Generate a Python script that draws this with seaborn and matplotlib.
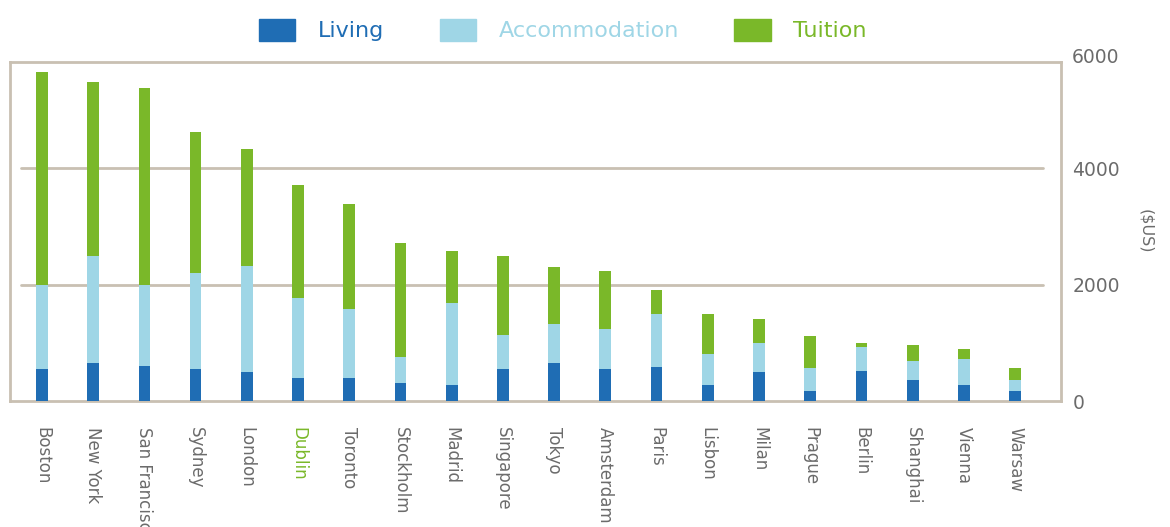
import pandas as pd
import numpy as np
import matplotlib.pyplot as plt
import seaborn as sns
from matplotlib.patches import Patch
import matplotlib.transforms as mtransforms

# values ($US)
cities = ['Boston', 'New York', 'San Francisco', 'Sydney', 'London', 'Dublin', 'Toronto',
          'Stockholm', 'Madrid', 'Singapore', 'Tokyo', 'Amsterdam', 'Paris', 'Lisbon',
          'Milan', 'Prague', 'Berlin', 'Shanghai', 'Vienna', 'Warsaw']
living = [550, 650, 600, 550, 500, 400, 400, 310, 280, 550, 660, 550, 590, 280, 500, 180, 510, 360, 280, 175]
accommodation = [1450, 1850, 1400, 1650, 1820, 1370, 1180, 450, 1400, 580, 670, 680, 910, 530, 500, 380, 410, 330, 450, 195]
tuition = [3650, 2980, 3380, 2430, 2010, 1940, 1810, 1950, 900, 1360, 980, 1010, 400, 690, 410, 560, 80, 280, 170, 195]
yticks = [0, 2000, 4000]

c_living = '#1f6db4'
c_accom = '#9fd6e6'
c_tuition = '#7ab829'
c_frame = '#c9c0b2'
c_text = '#6b6b6b'

sns.set_style('white')
plt.rcParams['font.family'] = ['DejaVu Sans']

df = pd.DataFrame({'city': cities, 'living': living,
                   'accommodation': accommodation, 'tuition': tuition})
df['la'] = df['living'] + df['accommodation']
df['total'] = df['la'] + df['tuition']

fig = plt.figure(figsize=(11.7, 5.27), dpi=100)
ax = fig.add_axes([0.0085, 0.239, 0.8985, 0.644])

# stacked bars drawn as cumulative layers
for col, c in [('total', c_tuition), ('la', c_accom), ('living', c_living)]:
    sns.barplot(data=df, x='city', y=col, order=cities, color=c, saturation=1,
                width=0.23, errorbar=None, linewidth=0, ax=ax, zorder=3)

ax.set_xlim(-0.625, len(cities) - 0.1)
ax.set_ylim(0, 5830)

for y in yticks[1:]:
    ax.axhline(y, xmin=0.0105, xmax=0.983, color=c_frame, lw=2, zorder=1)

for s in ax.spines.values():
    s.set_color(c_frame)
    s.set_linewidth(2)
    s.set_visible(True)

ax.yaxis.tick_right()
ax.set_yticks(yticks)
ax.set_yticklabels([str(v) for v in yticks])
ax.tick_params(axis='y', length=0, pad=8, labelsize=13.5, labelcolor=c_text)
ax.tick_params(axis='x', length=0, pad=19, labelsize=12, labelcolor=c_text)
ax.set_xlabel('')
ax.set_ylabel('($US)', rotation=270, color=c_text, fontsize=11.5, labelpad=24)
ax.yaxis.set_label_position('right')

# 6000 label sits just above the frame
trans = mtransforms.blended_transform_factory(ax.transAxes, ax.transData)
ax.text(1.0 + 11 / (0.8985 * 1170), 5910, '6000', transform=trans, ha='left', va='center',
        fontsize=13.5, color=c_text, clip_on=False)

for lbl in ax.get_xticklabels():
    lbl.set_rotation(-90)
    if lbl.get_text() == 'Dublin':
        lbl.set_color(c_tuition)

handles = [Patch(color=c_living), Patch(color=c_accom), Patch(color=c_tuition)]
leg = fig.legend(handles, ['Living', 'Accommodation', 'Tuition'], loc='center',
                 bbox_to_anchor=(0.481, 0.943), ncol=3, frameon=False, fontsize=16,
                 handlelength=1.65, handleheight=1.2, handletextpad=1.0, columnspacing=2.5)
for t, c in zip(leg.get_texts(), [c_living, c_accom, c_tuition]):
    t.set_color(c)

fig.savefig('out.png', dpi=100)
